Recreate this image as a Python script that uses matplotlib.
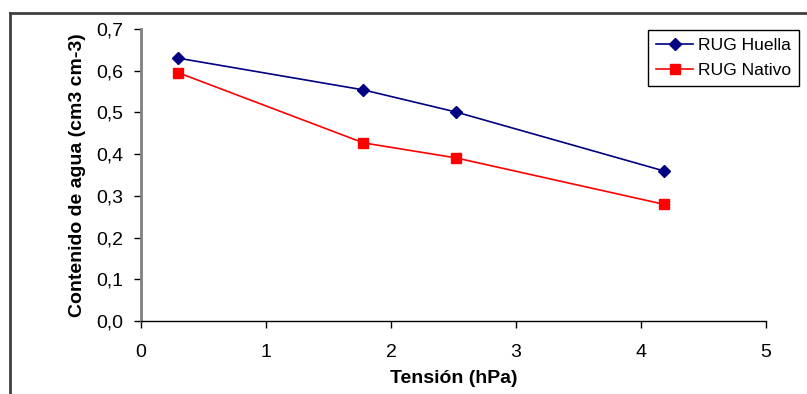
import matplotlib
matplotlib.use("Agg")
import matplotlib.pyplot as plt
from matplotlib.lines import Line2D
from matplotlib.ticker import FuncFormatter

plt.rcParams['font.family'] = ['Liberation Sans', 'DejaVu Sans']

# Tension (log hPa) and water content for each treatment
tension = [0.30, 1.78, 2.52, 4.18]
huella = [0.630, 0.554, 0.501, 0.360]
nativo = [0.595, 0.427, 0.391, 0.280]

x_ticks = [0, 1, 2, 3, 4, 5]
y_ticks = [0.0, 0.1, 0.2, 0.3, 0.4, 0.5, 0.6, 0.7]

fig = plt.figure(figsize=(8.07, 3.94), dpi=100)
ax = fig.add_axes([0.1747, 0.1853, 0.7745, 0.7411])

ax.plot(tension, huella, color='#000080', marker='D', markersize=6,
        linewidth=1.2, label='RUG Huella')
ax.plot(tension, nativo, color='#FF0000', marker='s', markersize=6.5,
        linewidth=1.2, label='RUG Nativo')

ax.set_xlim(0, 5)
ax.set_ylim(0, 0.7)
ax.set_xticks(x_ticks)
ax.set_yticks(y_ticks)
ax.yaxis.set_major_formatter(FuncFormatter(lambda v, p: f"{v:.1f}".replace('.', ',')))
ax.xaxis.set_major_formatter(FuncFormatter(lambda v, p: f"{int(round(v))}"))

for s in ['top', 'right']:
    ax.spines[s].set_visible(False)
ax.spines['left'].set_color('#808080')
ax.spines['left'].set_linewidth(2)
ax.spines['bottom'].set_color('black')
ax.spines['bottom'].set_linewidth(1)

ax.tick_params(axis='both', direction='out', length=5, width=1, color='black',
               labelsize=14)
ax.tick_params(axis='x', pad=11.5)
ax.tick_params(axis='y', pad=7.5)

ax.set_xlabel('Tensión (hPa)', fontsize=14, fontweight='bold')
ax.set_ylabel('Contenido de agua (cm3 cm-3)', fontsize=14, fontweight='bold')
ax.xaxis.set_label_coords(0.5008, -0.168)
ax.yaxis.set_label_coords(-0.088, 0.5)

leg = ax.legend(loc='upper right', bbox_to_anchor=(1.053, 0.997), fontsize=12.6,
                frameon=True, fancybox=False, shadow=False, framealpha=1,
                edgecolor='black', borderpad=0.45, handlelength=2.1,
                labelspacing=0.55, handletextpad=0.3, borderaxespad=0)
leg.get_frame().set_linewidth(1)

# outer chart frame
fig.add_artist(Line2D([0.0118, 0.0118], [0, 0.967], transform=fig.transFigure,
                      color='#404040', linewidth=2))
fig.add_artist(Line2D([0.0118, 1.0], [0.967, 0.967], transform=fig.transFigure,
                      color='#404040', linewidth=2))

fig.savefig('out.png', dpi=100)
